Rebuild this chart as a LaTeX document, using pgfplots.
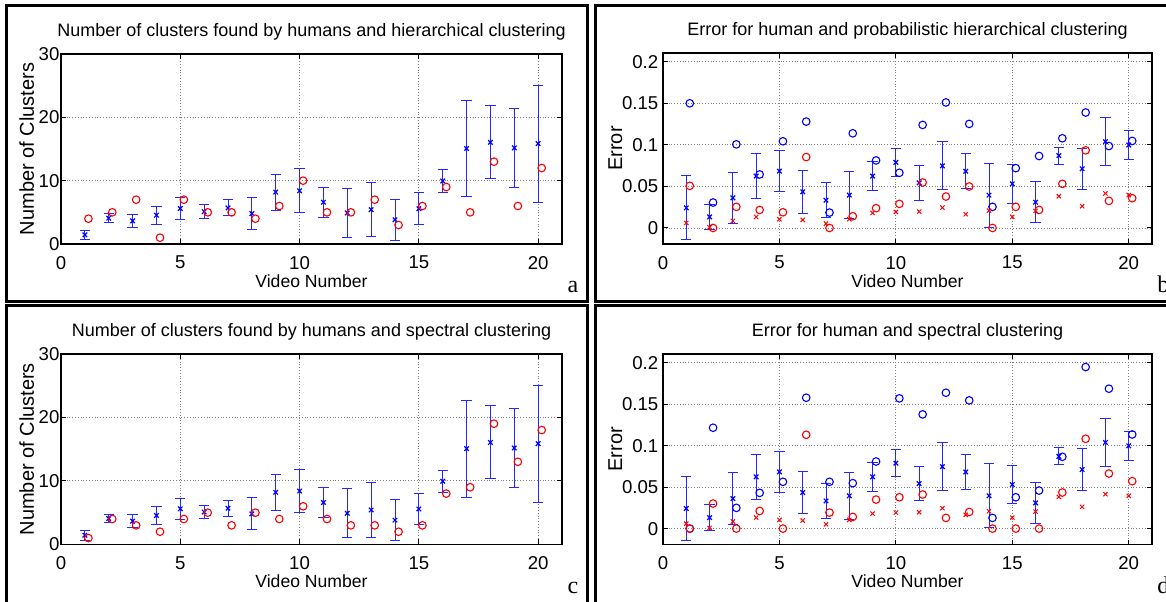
\documentclass[border=0pt]{standalone}
\usepackage{fontspec}
\setmainfont{Liberation Sans}
\newfontfamily\serif{Liberation Serif}
\usepackage{pgfplots}
\usepackage{pgfplotstable}
\pgfplotsset{compat=1.18}

% number of clusters: human mean +- std, hierarchical, spectral
\pgfplotstableread{
v  vo     hum    hs    hier  spec
1  1.15   1.45   0.76  4     1
2  2.15   4.08   0.66  5     4
3  3.15   3.66   1.02  7     3
4  4.15   4.55   1.45  1     2
5  5.15   5.60   1.70  7     4
6  6.15   5.10   1.08  5     5
7  7.15   5.70   1.27  5     3
8  8.15   4.80   2.53  4     5
9  9.15   8.20   2.84  6     4
10 10.15  8.40   3.45  10    6
11 11.15  6.60   2.38  5     4
12 12.15  4.90   3.85  5     3
13 13.15  5.42   4.26  7     3
14 14.15  3.82   3.24  3     2
15 15.15  5.58   2.48  6     3
16 16.15  9.95   1.75  9     8
17 17.15  15.08  7.62  5     9
18 18.15  16.05  5.75  13    19
19 19.15  15.18  6.22  6     13
20 20.15  15.86  9.23  12    18
}\clusters

% error: human mean +- std, prob. hierarchical (blue o, red o), spectral (blue o, red o), red x
\pgfplotstableread{
v  vo     hum     hs      hpb     hpr     spb     spr     rx
1  1.15   0.0242  0.0385  0.1500  0.0507  0.0000  0.0000  0.0060
2  2.15   0.0133  0.0153  0.0306  0.0000  0.1216  0.0302  0.0008
3  3.15   0.0362  0.0310  0.1006  0.0254  0.0250  0.0000  0.0085
4  4.15   0.0624  0.0270  0.0644  0.0217  0.0431  0.0213  0.0133
5  5.15   0.0684  0.0245  0.1043  0.0189  0.0564  0.0000  0.0105
6  6.15   0.0435  0.0255  0.1280  0.0853  0.1578  0.1131  0.0097
7  7.15   0.0334  0.0210  0.0185  0.0000  0.0564  0.0193  0.0052
8  8.15   0.0395  0.0280  0.1139  0.0141  0.0548  0.0141  0.0105
9  9.15   0.0624  0.0177  0.0813  0.0238  0.0809  0.0350  0.0181
10 10.15  0.0789  0.0165  0.0664  0.0290  0.1570  0.0378  0.0193
11 11.15  0.0543  0.0207  0.1240  0.0547  0.1377  0.0411  0.0197
12 12.15  0.0747  0.0290  0.1510  0.0378  0.1638  0.0129  0.0246
13 13.15  0.0683  0.0207  0.1252  0.0499  0.1546  0.0201  0.0165
14 14.15  0.0395  0.0386  0.0254  0.0000  0.0129  0.0000  0.0209
15 15.15  0.0531  0.0233  0.0720  0.0254  0.0378  0.0000  0.0133
16 16.15  0.0310  0.0246  0.0866  0.0217  0.0459  0.0000  0.0205
17 17.15  0.0871  0.0103  0.1079  0.0531  0.0866  0.0435  0.0382
18 18.15  0.0712  0.0250  0.1389  0.0934  0.1948  0.1083  0.0262
19 19.15  0.1039  0.0290  0.0986  0.0326  0.1687  0.0664  0.0415
20 20.15  0.0998  0.0173  0.1047  0.0358  0.1135  0.0572  0.0395
}\errors

\pgfplotsset{
  panel/.style={
    scale only axis, anchor=south west,
    xmin=0, xmax=21, xtick={0,5,10,15,20},
    grid=major, grid style={densely dotted, black!50, line width=0.45pt},
    tick align=inside, major tick length=2.5pt,
    axis line style={line width=0.7pt},
    tick style={black, line width=0.5pt},
    tick label style={font=\fontsize{9.3}{10}\selectfont},
    /pgf/number format/assume math mode=true,
    /pgf/number format/fixed,
    xlabel={Video Number},
    every axis x label/.style={at={(axis description cs:0.5,0)}, anchor=base,
                               yshift=-21.5pt, font=\fontsize{8.8}{10}\selectfont},
    every axis title/.style={at={(axis description cs:0.5,1)}, anchor=base,
                             yshift=8.7pt, font=\fontsize{9}{10}\selectfont},
    xticklabel style={yshift=-2.5pt},
  },
  ylab/.style={every axis y label/.style={at={([xshift=-#1]axis description cs:0,0.5)},
               rotate=90, anchor=base, font=\fontsize{10}{11}\selectfont}},
  human/.style={blue, only marks, mark=x, mark size=1.6pt,
    mark options={line width=0.6pt},
    error bars/.cd, y dir=both, y explicit, error mark=-,
    error bar style={draw=blue!85, line width=0.5pt},
    error mark options={rotate=90, draw=blue!85, mark size=2.6pt, line width=0.5pt}},
  bo/.style={blue, only marks, mark=o, mark size=1.9pt, mark options={line width=0.55pt}},
  ro/.style={red, only marks, mark=o, mark size=1.9pt, mark options={line width=0.55pt}},
  rx/.style={red, only marks, mark=x, mark size=1.5pt, mark options={line width=0.5pt}},
}

\begin{document}
\begin{tikzpicture}
\useasboundingbox (0,0) rectangle (583pt,-300.5pt);

% panel frames
\draw[line width=1.5pt] (3.25pt,-2.75pt) rectangle (293.75pt,-150.5pt);
\draw[line width=1.5pt] (297.75pt,-2.75pt) rectangle (590pt,-150.5pt);
\draw[line width=1.5pt] (3.25pt,-152.5pt) rectangle (293.75pt,-303pt);
\draw[line width=1.5pt] (297.75pt,-152.5pt) rectangle (590pt,-303pt);

% (a)
\begin{axis}[panel, at={(30.5pt,-122pt)}, width=250.5pt, height=95pt,
  ymin=0, ymax=30, ytick={0,10,20,30},
  yticklabel style={inner xsep=0.6pt},
  title={Number of clusters found by humans and hierarchical clustering},
  ylabel={Number of Clusters}, ylab=13.5pt]
\addplot[human] table[x=v, y=hum, y error=hs] {\clusters};
\addplot[ro] table[x=vo, y=hier] {\clusters};
\end{axis}

% (b)
\begin{axis}[panel, at={(331.5pt,-122pt)}, width=244.5pt, height=95.5pt,
  ymin=-0.0193, ymax=0.2105, ytick={0,0.05,0.1,0.15,0.2},
  yticklabel style={inner xsep=2.2pt},
  title={Error for human and probabilistic hierarchical clustering},
  ylabel={Error}, ylab=20.5pt]
\addplot[human] table[x=v, y=hum, y error=hs] {\errors};
\addplot[bo] table[x=vo, y=hpb] {\errors};
\addplot[rx] table[x=v, y=rx] {\errors};
\addplot[ro] table[x=vo, y=hpr] {\errors};
\end{axis}

% (c)
\begin{axis}[panel, at={(30.5pt,-272.2pt)}, width=250.5pt, height=95.3pt,
  ymin=0, ymax=30, ytick={0,10,20,30},
  yticklabel style={inner xsep=0.6pt},
  title={Number of clusters found by humans and spectral clustering},
  ylabel={Number of Clusters}, ylab=13.5pt]
\addplot[human] table[x=v, y=hum, y error=hs] {\clusters};
\addplot[ro] table[x=vo, y=spec] {\clusters};
\end{axis}

% (d)
\begin{axis}[panel, at={(331.5pt,-272.3pt)}, width=244.5pt, height=95.3pt,
  ymin=-0.0193, ymax=0.2105, ytick={0,0.05,0.1,0.15,0.2},
  yticklabel style={inner xsep=2.2pt},
  title={Error for human and spectral clustering},
  ylabel={Error}, ylab=20.5pt]
\addplot[human] table[x=v, y=hum, y error=hs] {\errors};
\addplot[bo] table[x=vo, y=spb] {\errors};
\addplot[rx] table[x=v, y=rx] {\errors};
\addplot[ro] table[x=vo, y=spr] {\errors};
\end{axis}

\node[font=\serif\fontsize{12}{12}\selectfont, anchor=base] at (286.5pt,-146pt) {a};
\node[font=\serif\fontsize{12}{12}\selectfont, anchor=base west, inner sep=0pt] at (578.5pt,-146pt) {b};
\node[font=\serif\fontsize{12}{12}\selectfont, anchor=base] at (286.5pt,-296.5pt) {c};
\node[font=\serif\fontsize{12}{12}\selectfont, anchor=base west, inner sep=0pt] at (578.5pt,-296.5pt) {d};
\end{tikzpicture}
\end{document}
